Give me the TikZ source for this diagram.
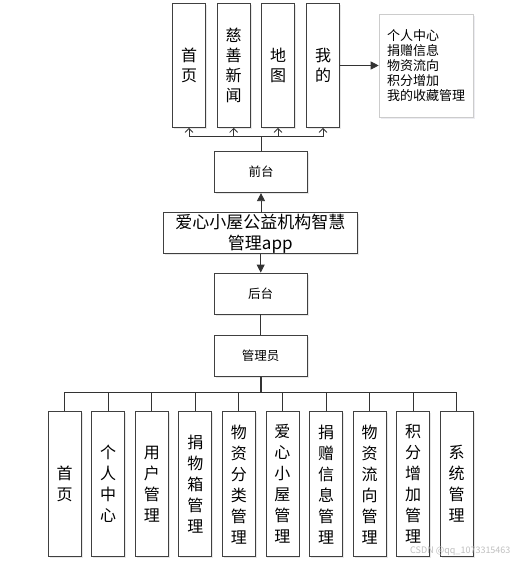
\documentclass[tikz,border=0pt]{standalone}
\usepackage{fontspec}
\setmainfont{Noto Sans CJK SC}
\usetikzlibrary{arrows.meta,shadows}
\begin{document}
\begin{tikzpicture}[x=1pt,y=-1pt,
  box/.style={draw=black!75,line width=0.8pt,fill=white,inner sep=0pt,align=center,
    drop shadow={shadow xshift=1.5pt,shadow yshift=-1.5pt,fill=black!18}},
  tallbox/.style={box,minimum width=33pt,minimum height=124pt,font=\fontsize{16}{20}\selectfont},
  lowbox/.style={box,minimum width=33pt,minimum height=145pt,font=\fontsize{16}{21}\selectfont},
  midbox/.style={box,minimum width=93pt,minimum height=41pt,font=\fontsize{12.5}{15}\selectfont},
  conn/.style={draw=black!80,line width=0.8pt},
  openarr/.style={conn,-{Straight Barb[length=4pt,width=8pt]}},
  fillarr/.style={conn,-{Triangle[length=8pt,width=8pt]}}]
\useasboundingbox (0,0) rectangle (516,564);

% top row
\node[tallbox] (t1) at (189,65.5) {首\\页};
\node[tallbox] (t2) at (233.7,65.5) {慈\\善\\新\\闻};
\node[tallbox] (t3) at (278,65.5) {地\\图};
\node[tallbox] (t4) at (323,65.5) {我\\的};

\node[draw=black!20,line width=0.6pt,fill=white,minimum width=94pt,minimum height=103pt,
  inner sep=0pt,align=left,font=\fontsize{13}{15}\selectfont,
  drop shadow={shadow xshift=2pt,shadow yshift=-2pt,fill=blue!30!black!15}]
  (list) at (426,65.5) {个人中心\\捐赠信息\\物资流向\\积分增加\\我的收藏管理};

\node[midbox] (qt) at (261,172.2) {前台};
\node[box,minimum width=194pt,minimum height=41pt,font=\fontsize{17}{21}\selectfont]
  (app) at (260.3,233.3) {爱心小屋公益机构智慧\\管理app};
\node[midbox] (ht) at (260.7,293.5) {后台};
\node[midbox] (gly) at (260.7,356.2) {管理员};

% bottom row
\foreach \i/\t in {0/{首\\页},1/{个\\人\\中\\心},2/{用\\户\\管\\理},3/{捐\\物\\箱\\管\\理},
  4/{物\\资\\分\\类\\管\\理},5/{爱\\心\\小\\屋\\管\\理},6/{捐\\赠\\信\\息\\管\\理},
  7/{物\\资\\流\\向\\管\\理},8/{积\\分\\增\\加\\管\\理},9/{系\\统\\管\\理}}
  \node[lowbox] (b\i) at ({64.65+43.56*\i},484.2) {\t};

% connectors
\coordinate (topbar) at (261,136);
\foreach \n in {t1,t2,t3,t4}
  \draw[openarr] (qt.north) -- (qt.north |- topbar) -| (\n.south);
\draw[fillarr] (t4.east |- list.west) -- (list.west);
\draw[fillarr] (app.north -| qt.south) -- (qt.south);
\draw[fillarr] (app.south -| ht.north) -- (ht.north);
\draw[conn] (ht.south) -- (gly.north);

\coordinate (botbar) at (260.7,392.7);
\draw[conn,line width=1.6pt] (gly.south) -- (botbar);
\foreach \i in {0,...,9}
  \draw[conn] (gly.south) -- (gly.south |- botbar) -| (b\i.north);

% watermark
\node[text=black!25,font=\fontsize{9}{10}\selectfont,anchor=east] (wm) at (514,551) {CSDN @qq\_1073315463};
\end{tikzpicture}
\end{document}
